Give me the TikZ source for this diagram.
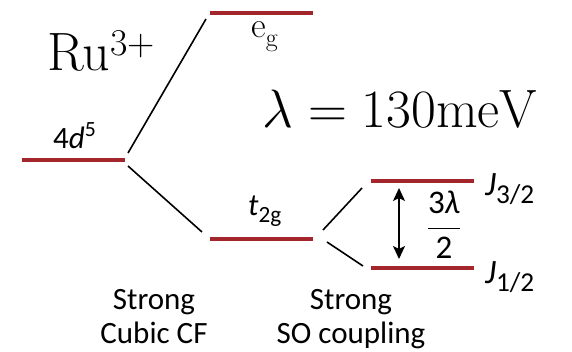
\RequirePackage{fix-cm}
\documentclass[tikz,border=0pt]{standalone}
\usepackage{fontspec}
\newfontfamily\lab{Carlito}
\usetikzlibrary{arrows.meta}
\definecolor{lvl}{HTML}{A2262C}
\tikzset{
  level/.style={draw=lvl, line width=3.6pt},
  conn/.style={draw=black, line width=1.6pt},
  lbl/.style={font=\lab\fontsize{31}{35}\selectfont, inner sep=0pt},
  big/.style={font=\fontsize{54}{60}\selectfont, inner sep=0pt},
  rmlbl/.style={font=\rmfamily\fontsize{36}{40}\selectfont, inner sep=0pt},
  dblarrow/.style={{Stealth[length=13pt,width=12pt,inset=3pt]}-{Stealth[length=13pt,width=12pt,inset=3pt]}},
}
\begin{document}
\begin{tikzpicture}[x=1pt,y=-1pt]
\useasboundingbox[fill=white] (0,0) rectangle (572,351);
% level end points
\coordinate (dL) at (22,160); \coordinate (dR) at (125,160);
\coordinate (eL) at (210,13); \coordinate (eR) at (313,13);
\coordinate (tL) at (210,239); \coordinate (tR) at (313,239);
\coordinate (aL) at (371,181); \coordinate (aR) at (474,181);
\coordinate (bL) at (371,268); \coordinate (bR) at (474,268);
\draw[level] (dL) -- (dR);
\draw[level] (eL) -- (eR);
\draw[level] (tL) -- (tR);
\draw[level] (aL) -- (aR);
\draw[level] (bL) -- (bR);
% connectors
\coordinate (c1a) at (128,153); \coordinate (c1b) at (206,19);
\coordinate (c2a) at (128,166); \coordinate (c2b) at (202,232);
\coordinate (c3a) at (323,230); \coordinate (c3b) at (362,188);
\coordinate (c4a) at (327,242); \coordinate (c4b) at (363,266);
\draw[conn] (c1a) -- (c1b);
\draw[conn] (c2a) -- (c2b);
\draw[conn] (c3a) -- (c3b);
\draw[conn] (c4a) -- (c4b);
% arrow
\coordinate (arT) at (399,188); \coordinate (arB) at (399,259);
\draw[conn, dblarrow] (arT) -- (arB);
% labels
\node[big, anchor=base west] (ru) at (47,70) {Ru\raisebox{15pt}{\scalebox{0.7}{3+}}};
\node[big, anchor=base west] (lam) at (262,127) {$\lambda = 130\mathrm{meV}$};
\node[lbl, anchor=base west] (d5) at (53,148) {4\textit{d}\textsuperscript{5}};
\node[rmlbl, anchor=base west] (eg) at (251,37) {e\raisebox{-9pt}{\scalebox{0.72}{g}}};
\node[lbl, anchor=base west] (tg) at (248,215) {\textit{t}\raisebox{-7pt}{\scalebox{0.75}{2g}}};
\node[lbl, anchor=base west] (j3) at (485,195) {\scalebox{1.1}{\textit{J}\raisebox{-8pt}{\scalebox{0.8}{3/2}}}};
\node[lbl, anchor=base west] (j1) at (485,283) {\scalebox{1.1}{\textit{J}\raisebox{-8pt}{\scalebox{0.8}{1/2}}}};
\node[lbl, anchor=center] (fr) at (444,225) {\fontsize{33}{38}\selectfont$\displaystyle\frac{\mbox{3\textit{λ}}}{\mbox{2}}$};
\node[lbl, anchor=base] (cf1) at (154,309) {Strong};
\node[lbl, anchor=base] (cf2) at (154,343) {Cubic CF};
\node[lbl, anchor=base] (so1) at (351,309) {Strong};
\node[lbl, anchor=base] (so2) at (351,343) {SO coupling};
\end{tikzpicture}
\end{document}
